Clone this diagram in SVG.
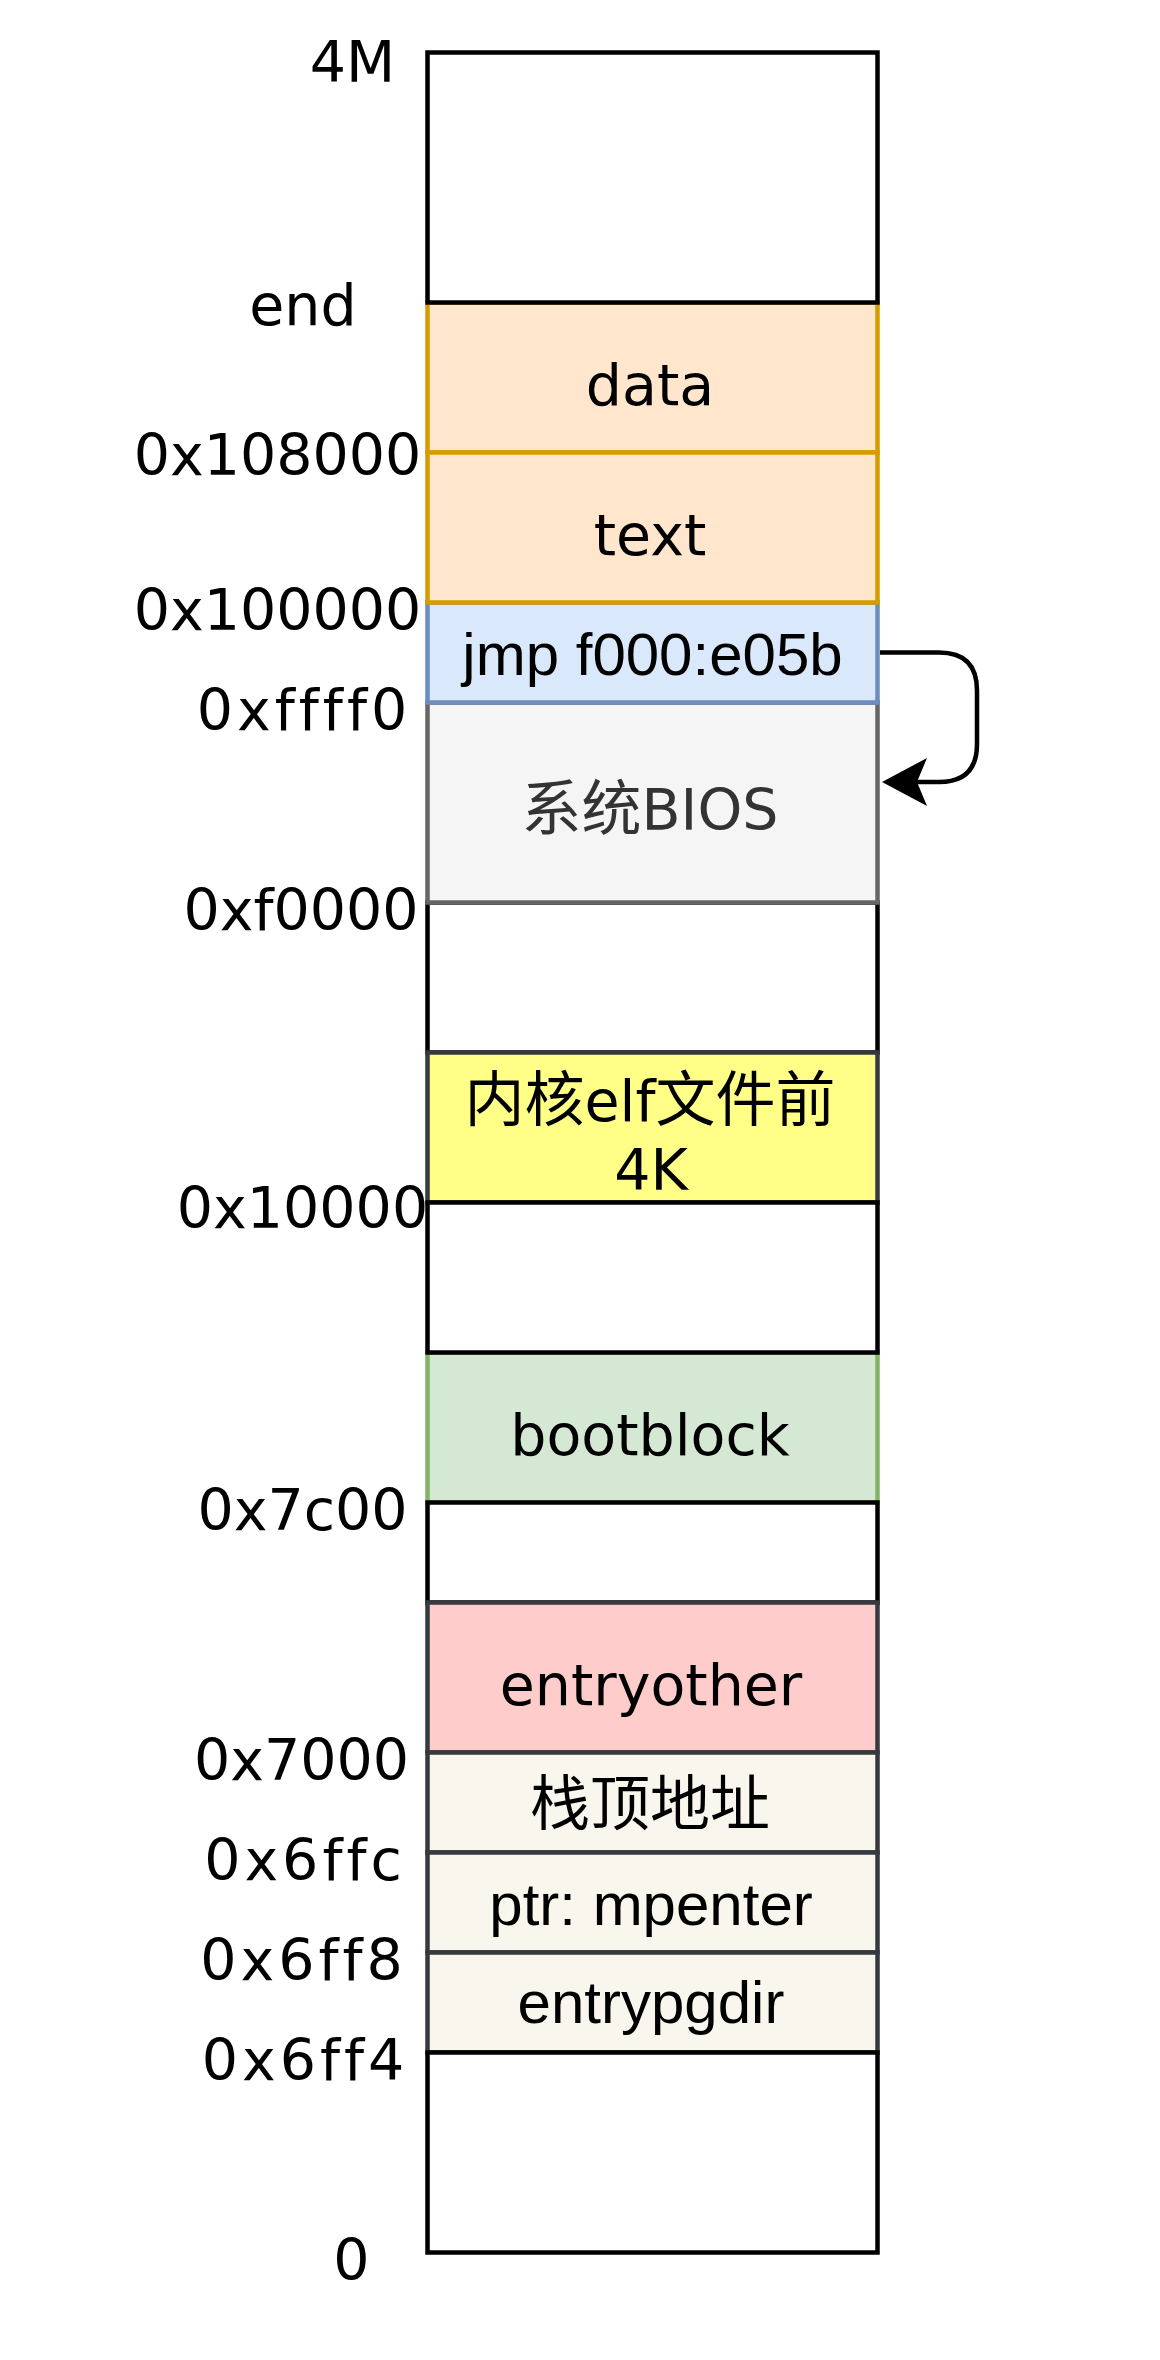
<svg xmlns="http://www.w3.org/2000/svg" width="1160" height="2360" viewBox="0 0 1160 2360">
<style>
  .cell { stroke-width: 4.5; }
  .empty { fill: #ffffff; stroke: #000000; }
  .orange { fill: #ffe6cc; stroke: #d79b00; }
  .blue { fill: #dae8fc; stroke: #6c8ebf; }
  .gray { fill: #f5f5f5; stroke: #666666; }
  .yellow { fill: #ffff88; stroke: #36393d; }
  .green { fill: #d5e8d4; stroke: #82b366; }
  .red { fill: #ffcccc; stroke: #36393d; }
  .cream { fill: #f9f7ed; stroke: #36393d; }
  .c { font-family: 'Comic Sans MS', 'DejaVu Sans', 'Noto Sans CJK SC', sans-serif; font-size: 57px; fill: #000000; text-anchor: middle; font-variant-ligatures: none; }
  .sp { letter-spacing: 4px; }
  .cjk { font-family: 'Noto Sans CJK SC', sans-serif; font-size: 60px; }
  .h { font-family: Helvetica, 'Liberation Sans', Arial, sans-serif; font-size: 60px; fill: #000000; text-anchor: middle; }
  .conn { fill: none; stroke: #000000; stroke-width: 4.5; }
</style>
<defs>
  <marker id="arrow" markerUnits="userSpaceOnUse" markerWidth="46" markerHeight="48" viewBox="0 0 46 48" refX="10" refY="24" orient="auto">
    <path d="M 0 0 L 45 24 L 0 48 L 10 24 Z" fill="#000000"/>
  </marker>
</defs>
<rect width="1160" height="2360" fill="#ffffff"/>

<g id="node-data"><rect class="cell orange" x="427.5" y="302.5" width="450" height="150"/>
  <text class="c" x="650" y="405">data</text></g>
<g id="node-top-empty"><rect class="cell empty" x="427.5" y="52.5" width="450" height="250"/></g>
<g id="node-empty-f0000"><rect class="cell empty" x="427.5" y="902.5" width="450" height="150"/></g>
<g id="node-bios"><rect class="cell gray" x="427.5" y="702.5" width="450" height="200"/>
  <text class="c" x="650" y="830" style="fill:#333333"><tspan class="cjk">系统</tspan>BIOS</text></g>
<g id="node-jmp"><rect class="cell blue" x="427.5" y="602.5" width="450" height="100"/>
  <text class="h" x="652.5" y="675">jmp f000:e05b</text></g>
<g id="node-text"><rect class="cell orange" x="427.5" y="452.5" width="450" height="150"/>
  <text class="c" x="650" y="555">text</text></g>
<g id="node-kernel-elf"><rect class="cell yellow" x="427.5" y="1052.5" width="450" height="150"/>
  <text class="c" x="650" y="1121"><tspan class="cjk">内核</tspan>elf<tspan class="cjk">文件前</tspan></text>
  <text class="c" x="651" y="1190">4K</text></g>
<g id="node-bootblock"><rect class="cell green" x="427.5" y="1352.5" width="450" height="150"/>
  <text class="c" x="650" y="1455">bootblock</text></g>
<g id="node-empty-10000"><rect class="cell empty" x="427.5" y="1202.5" width="450" height="150"/></g>
<g id="node-empty-7c00"><rect class="cell empty" x="427.5" y="1502.5" width="450" height="100"/></g>
<g id="node-entryother"><rect class="cell red" x="427.5" y="1602.5" width="450" height="150"/>
  <text class="c" x="651" y="1705">entryother</text></g>
<g id="node-stack-top"><rect class="cell cream" x="427.5" y="1752.5" width="450" height="100"/>
  <text class="c cjk" x="650" y="1825">栈顶地址</text></g>
<g id="node-ptr-mpenter"><rect class="cell cream" x="427.5" y="1852.5" width="450" height="100"/>
  <text class="h" x="651" y="1925">ptr: mpenter</text></g>
<g id="node-entrypgdir"><rect class="cell cream" x="427.5" y="1952.5" width="450" height="100"/>
  <text class="h" x="651" y="2023">entrypgdir</text></g>
<g id="node-bottom-empty"><rect class="cell empty" x="427.5" y="2052.5" width="450" height="200"/></g>

<g id="label-4M"><text class="c" x="352.5" y="82">4M</text></g>
<g id="label-end"><text class="c" x="303" y="325">end</text></g>
<g id="label-0x108000"><text class="c" x="277.5" y="475">0x108000</text></g>
<g id="label-0x100000"><text class="c" x="277.5" y="630">0x100000</text></g>
<g id="label-0xffff0"><text class="c sp" x="304" y="730">0xffff0</text></g>
<g id="label-0xf0000"><text class="c" x="301" y="930">0xf0000</text></g>
<g id="label-0x10000"><text class="c" x="302.5" y="1228">0x10000</text></g>
<g id="label-0x7c00"><text class="c" x="302.5" y="1530">0x7c00</text></g>
<g id="label-0x7000"><text class="c" x="301.5" y="1780">0x7000</text></g>
<g id="label-0x6ffc"><text class="c sp" x="305" y="1880">0x6ffc</text></g>
<g id="label-0x6ff8"><text class="c sp" x="303.5" y="1980">0x6ff8</text></g>
<g id="label-0x6ff4"><text class="c sp" x="305" y="2080">0x6ff4</text></g>
<g id="label-0"><text class="c" x="351.5" y="2280">0</text></g>

<g id="connectors">
  <path class="conn" d="M 880 652.5 H 939 Q 977 652.5 977 690.5 V 744 Q 977 782 939 782 H 917" marker-end="url(#arrow)"/>
</g>
</svg>
